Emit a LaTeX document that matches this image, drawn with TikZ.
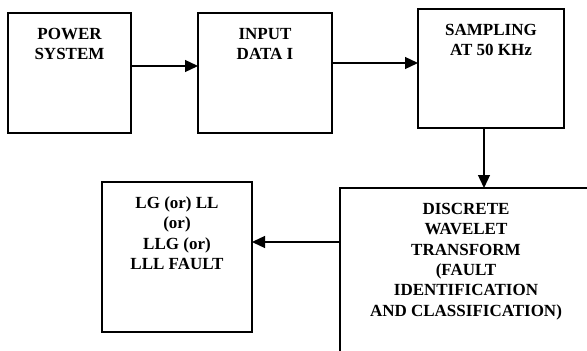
\documentclass[tikz,border=0pt]{standalone}
\usepackage{fontspec}
\setmainfont{Liberation Serif}
\usepackage{tikz}
\usetikzlibrary{arrows.meta}
%text block, pinned to the top of its box
\newcommand{\blocktext}[3]{\parbox[c][#2][t]{#1}{\centering\rule{0pt}{26.5pt}#3}}

\begin{document}
\begin{tikzpicture}[x=1pt,y=-1pt,
every node/.style={draw,line width=1.3pt,inner sep=0pt,outer sep=0pt,anchor=north west,
	font=\fontsize{17}{20.3}\selectfont\bfseries},
arr/.style={line width=1.3pt,-{Triangle[length=13pt,width=12pt]}}]
\useasboundingbox (0,0) rectangle (587,351);
\clip (0,0) rectangle (587,351);

%blocks of the chain
\node(pow) at (8,13) {\blocktext{123pt}{120pt}{POWER\\SYSTEM}};
\node(inp) at (198,13) {\blocktext{134pt}{120pt}{INPUT\\DATA I}};
\node(smp) at (418,9) {\blocktext{146pt}{119pt}{SAMPLING\\AT 50 KHz}};
\node(dwt) at (340,188) {\blocktext{252pt}{200pt}{DISCRETE\\WAVELET\\TRANSFORM\\(FAULT\\IDENTIFICATION\\AND CLASSIFICATION)}};
\node(flt) at (102,182) {\blocktext{150pt}{150pt}{LG (or) LL\\(or)\\LLG (or)\\LLL FAULT}};

%connectors
\draw[arr] ([yshift=7pt]pow.east) -- ([yshift=7pt]inp.west);
\draw[arr] ([yshift=10pt]inp.east) -- ([yshift=5.5pt]smp.west);
\coordinate(c1) at ([xshift=-7pt]smp.south);
\draw[arr] (c1) -- (c1 |- dwt.north);
\coordinate(c2) at ([yshift=15pt]flt.east);
\draw[arr] (dwt.west |- c2) -- (c2);
\end{tikzpicture}
\end{document}
